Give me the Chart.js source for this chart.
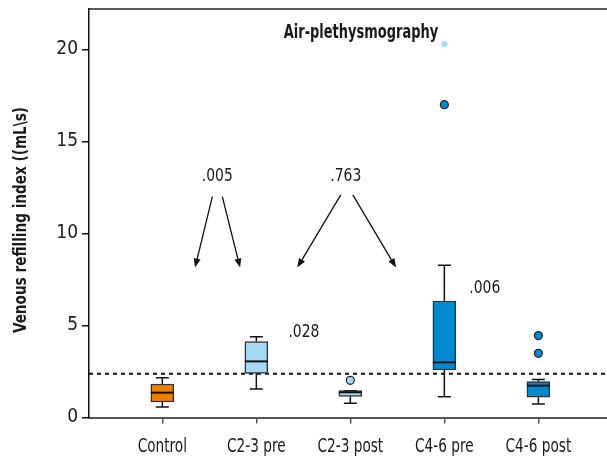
<!DOCTYPE html>
<html>
<head>
<meta charset="utf-8">
<script src="https://cdn.jsdelivr.net/npm/chart.js@4.4.1/dist/chart.umd.min.js"></script>
<style>
  html, body { margin: 0; padding: 0; background: #fff; }
  canvas { display: block; }
</style>
</head>
<body>
<canvas id="chart" width="607" height="457"></canvas>
<script>
const categories = ["Control", "C2-3 pre", "C2-3 post", "C4-6 pre", "C4-6 post"];
const whiskerLow = [0.57, 1.55, 0.77, 1.13, 0.73];
const quartile1 = [0.84, 2.40, 1.15, 2.58, 1.10];
const medians = [1.35, 3.05, 1.37, 3.00, 1.73];
const quartile3 = [1.82, 4.12, 1.46, 6.33, 1.95];
const whiskerHigh = [2.16, 4.39, 1.46, 8.28, 2.07];
const boxColors = ["#ef7f00", "#a5d9f6", "#a5d9f6", "#0088d0", "#0088d0"];

// outliers: [category index, value]
const outliers = [[2, 2.02], [3, 17.0], [4, 4.45], [4, 3.49]];
const extremes = [[3, 20.3]];

const referenceLevel = 2.38;
const yTicks = [0, 5, 10, 15, 20];

// p-value labels (x centre, y baseline) and the arrows drawn from them
const pLabels = [
  { text: ".005", x: 1.585, y: 12.85 },
  { text: ".763", x: 2.951, y: 12.85 },
  { text: ".028", x: 2.506, y: 4.36 },
  { text: ".006", x: 4.43, y: 6.75 }
];
const arrows = [
  [1.532, 12.0, 1.348, 8.15],
  [1.638, 12.0, 1.827, 8.15],
  [2.898, 12.1, 2.436, 8.15],
  [3.026, 12.1, 3.486, 8.15]
];

const FONT = "'DejaVu Sans Condensed', 'DejaVu Sans', sans-serif";
const TEXT = "#1a1a1a";

// narrow text: the installed fonts are wider than the condensed face used here
function narrowText(ctx, text, px, py, font, sx, rotated) {
  ctx.save();
  ctx.translate(px, py);
  if (rotated) ctx.rotate(-Math.PI / 2);
  ctx.scale(sx, 1);
  ctx.font = font;
  ctx.fillStyle = TEXT;
  ctx.textAlign = "center";
  ctx.textBaseline = "alphabetic";
  ctx.fillText(text, 0, 0);
  ctx.restore();
}

const boxExtras = {
  id: "boxExtras",
  beforeDatasetsDraw(chart) {
    const { ctx, scales: { x, y } } = chart;
    ctx.save();
    ctx.strokeStyle = "#111";
    ctx.lineWidth = 1.5;
    categories.forEach((c, i) => {
      const px = x.getPixelForValue(i + 1);
      const cap = 6.5;
      ctx.beginPath();
      ctx.moveTo(px, y.getPixelForValue(quartile3[i]));
      ctx.lineTo(px, y.getPixelForValue(whiskerHigh[i]));
      ctx.moveTo(px - cap, y.getPixelForValue(whiskerHigh[i]));
      ctx.lineTo(px + cap, y.getPixelForValue(whiskerHigh[i]));
      ctx.moveTo(px, y.getPixelForValue(quartile1[i]));
      ctx.lineTo(px, y.getPixelForValue(whiskerLow[i]));
      ctx.moveTo(px - cap, y.getPixelForValue(whiskerLow[i]));
      ctx.lineTo(px + cap, y.getPixelForValue(whiskerLow[i]));
      ctx.stroke();
    });
    ctx.restore();
  },
  afterDatasetsDraw(chart) {
    const { ctx, chartArea, scales: { x, y } } = chart;
    ctx.save();
    // medians
    ctx.strokeStyle = "#111";
    ctx.lineWidth = 2;
    const half = 11.5;
    medians.forEach((m, i) => {
      const px = x.getPixelForValue(i + 1);
      const py = y.getPixelForValue(m);
      ctx.beginPath();
      ctx.moveTo(px - half, py);
      ctx.lineTo(px + half, py);
      ctx.stroke();
    });

    // top frame line
    ctx.strokeStyle = "#222";
    ctx.lineWidth = 1.5;
    ctx.beginPath();
    ctx.moveTo(chartArea.left, chartArea.top);
    ctx.lineTo(chartArea.right, chartArea.top);
    ctx.stroke();

    // arrows
    ctx.strokeStyle = "#111";
    ctx.fillStyle = "#111";
    ctx.lineWidth = 1.3;
    arrows.forEach(([x0, y0, x1, y1]) => {
      const ax = x.getPixelForValue(x0), ay = y.getPixelForValue(y0);
      const bx = x.getPixelForValue(x1), by = y.getPixelForValue(y1);
      const ang = Math.atan2(by - ay, bx - ax);
      const len = 9, wid = 3.5;
      const hx = bx - len * Math.cos(ang), hy = by - len * Math.sin(ang);
      ctx.beginPath();
      ctx.moveTo(ax, ay);
      ctx.lineTo(hx, hy);
      ctx.stroke();
      ctx.beginPath();
      ctx.moveTo(bx, by);
      ctx.lineTo(hx + wid * Math.sin(ang), hy - wid * Math.cos(ang));
      ctx.lineTo(hx - wid * Math.sin(ang), hy + wid * Math.cos(ang));
      ctx.closePath();
      ctx.fill();
    });
    ctx.restore();

    // p-values
    pLabels.forEach(p => {
      narrowText(ctx, p.text, x.getPixelForValue(p.x), y.getPixelForValue(p.y), "18px " + FONT, 0.86);
    });

    // heading inside the plot
    narrowText(ctx, "Air-plethysmography", 361, 38, "bold 19px " + FONT, 0.76);
  },
  afterDraw(chart) {
    const { ctx, scales: { x } } = chart;
    // category labels
    categories.forEach((c, i) => {
      narrowText(ctx, c, x.getPixelForValue(i + 1), 451.5, "20px " + FONT, 0.76);
    });
    // y axis title
    narrowText(ctx, "Venous refilling index ((mL\\s)", 25.5, 220, "bold 17px " + FONT, 0.89, true);
  }
};

new Chart(document.getElementById("chart"), {
  type: "bar",
  data: {
    datasets: [
      {
        type: "line",
        data: [{ x: 0.22, y: referenceLevel }, { x: 5.73, y: referenceLevel }],
        borderColor: "#111",
        borderWidth: 2,
        borderDash: [4, 4],
        pointRadius: 0,
        order: 3
      },
      {
        type: "bar",
        data: categories.map((c, i) => ({ x: i + 1, y: [quartile1[i], quartile3[i]] })),
        backgroundColor: boxColors,
        borderColor: "#333",
        borderWidth: 1.5,
        borderSkipped: false,
        barThickness: 23,
        order: 2
      },
      {
        type: "scatter",
        data: outliers.map(([i, v]) => ({ x: i + 1, y: v })),
        backgroundColor: outliers.map(([i]) => boxColors[i]),
        borderColor: "#222",
        borderWidth: 1.2,
        pointRadius: 4,
        order: 1
      },
      {
        type: "scatter",
        data: extremes.map(([i, v]) => ({ x: i + 1, y: v })),
        pointStyle: "star",
        borderColor: "#a5d9f6",
        borderWidth: 1.5,
        pointRadius: 3.5,
        order: 1
      }
    ]
  },
  options: {
    responsive: false,
    animation: false,
    devicePixelRatio: 1,
    layout: { autoPadding: false, padding: { top: 9, right: 0, left: 0, bottom: 0 } },
    plugins: { legend: { display: false }, tooltip: { enabled: false } },
    scales: {
      x: {
        type: "linear",
        offset: false,
        min: 0.22,
        max: 5.73,
        afterBuildTicks: s => { s.ticks = categories.map((c, i) => ({ value: i + 1 })); },
        afterFit: s => {
          s.height = 39.5;
          s.paddingLeft = 0;
          s.paddingRight = 0;
        },
        ticks: { display: false },
        grid: { offset: false, drawOnChartArea: false, tickLength: 6, color: "#555", lineWidth: 1.5 },
        border: { color: "#555", width: 2 }
      },
      y: {
        min: 0,
        max: 22.2,
        afterBuildTicks: s => { s.ticks = yTicks.map(v => ({ value: v })); },
        afterFit: s => {
          s.width = 89;
          s.paddingTop = 0;
          s.paddingBottom = 0;
        },
        ticks: {
          font: { family: FONT, size: 19 },
          color: TEXT,
          padding: 4
        },
        grid: { drawOnChartArea: false, tickLength: 7, color: "#111", lineWidth: 1.5 },
        border: { color: "#111", width: 1.5 }
      }
    }
  },
  plugins: [boxExtras]
});
</script>
</body>
</html>
